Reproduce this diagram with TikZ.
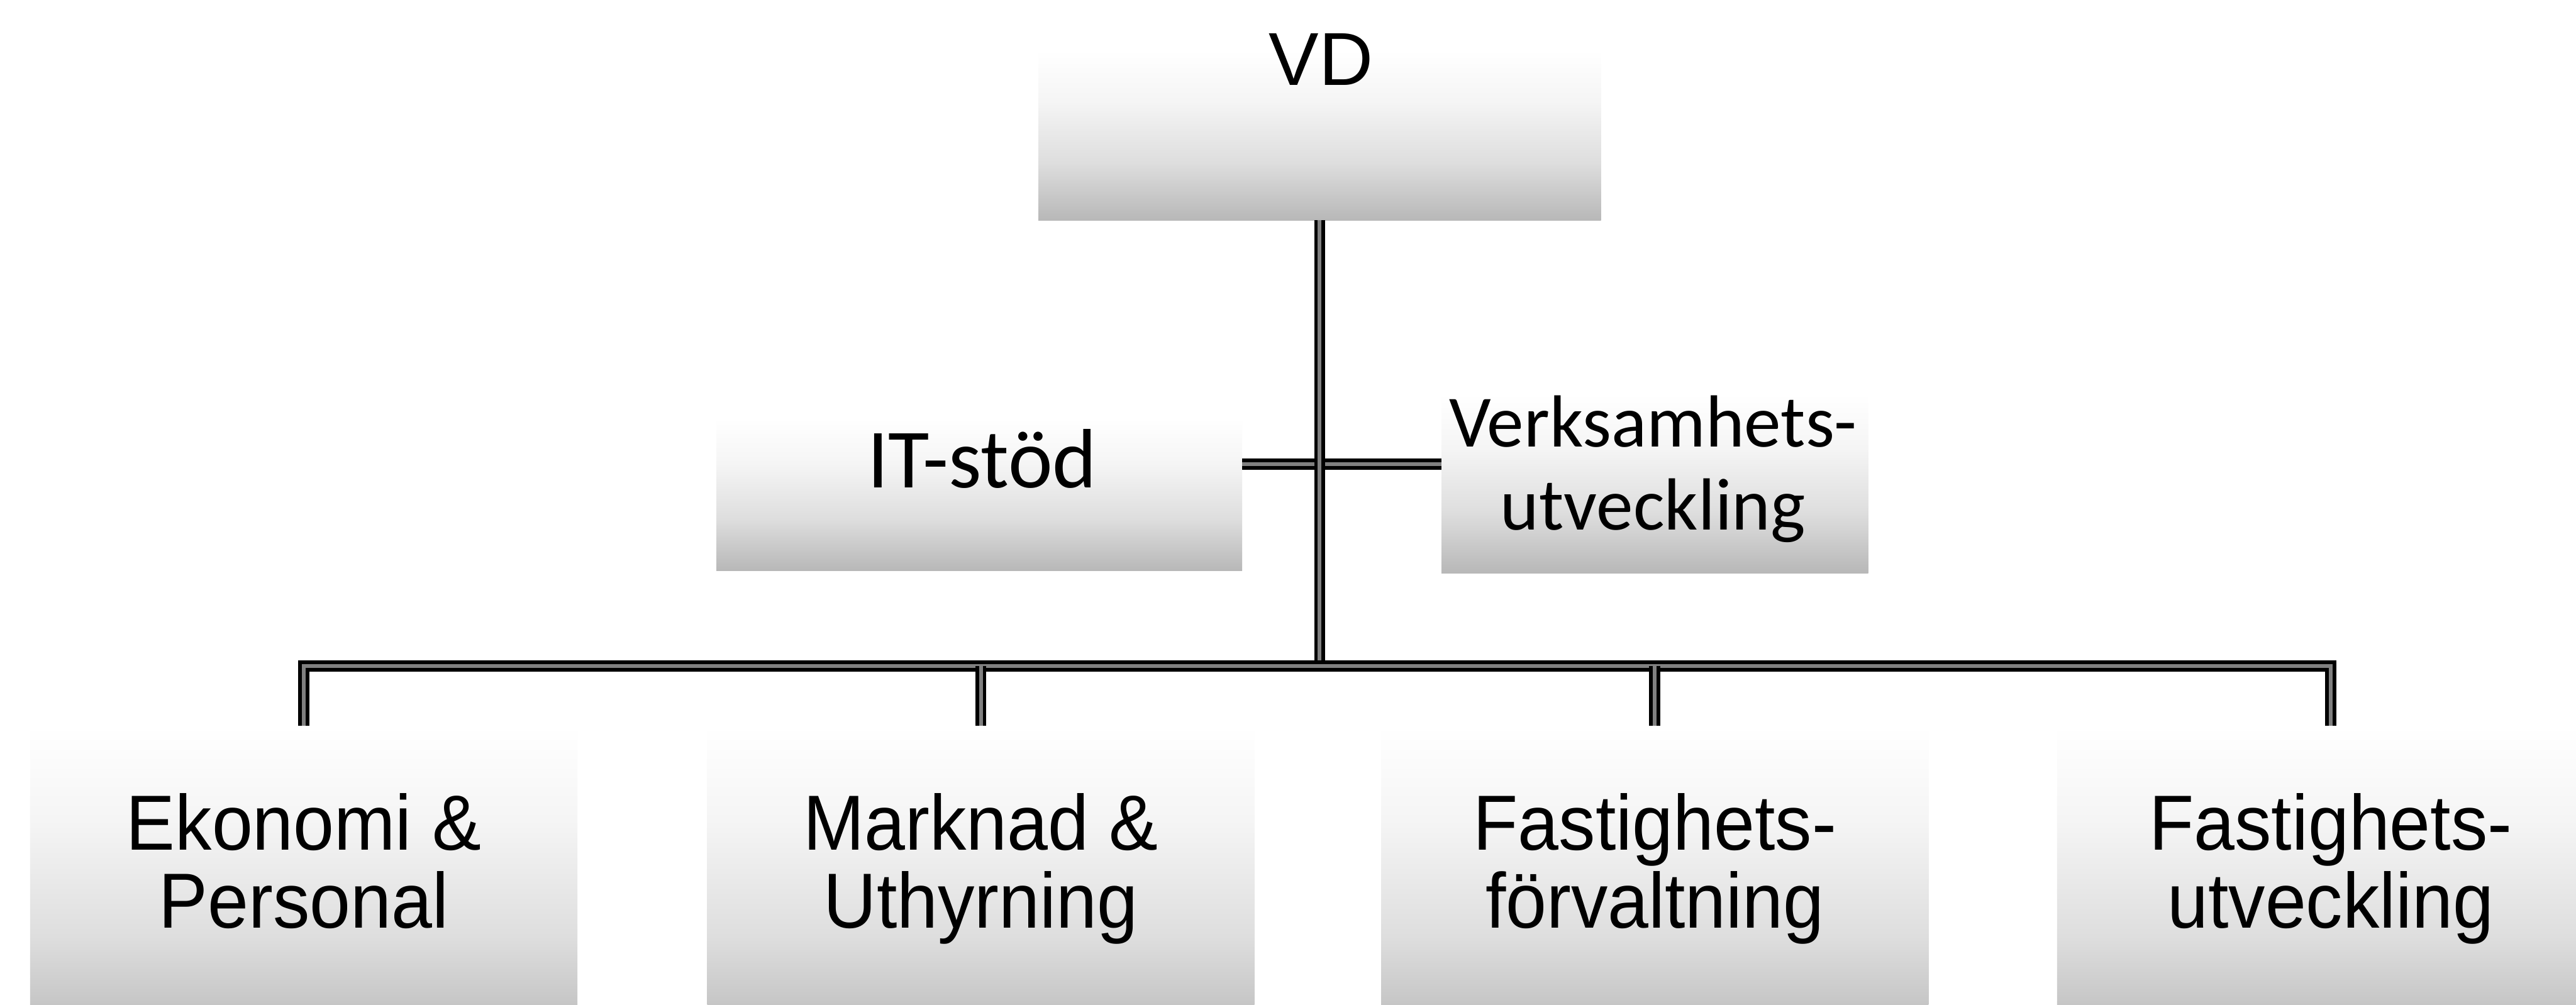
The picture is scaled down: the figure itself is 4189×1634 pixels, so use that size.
\documentclass[tikz,border=0pt]{standalone}
\usepackage{fontspec}
\setmainfont{Liberation Sans}
\newfontfamily\unitfont[FakeStretch=0.94]{Liberation Sans}
\newfontfamily\stafffont{Carlito}
% fill that is almost white at the top and darkens towards the bottom
\pgfdeclareverticalshading{unitfade}{100bp}{%
  color(0bp)=(black!28); color(25bp)=(black!28); color(42bp)=(black!13);
  color(60bp)=(black!4); color(75bp)=(white); color(100bp)=(white)}
\tikzset{
  unitbox/.style={rectangle, draw=none, inner sep=0pt, outer sep=0pt,
    shading=unitfade},
  unitlabel/.style={inner sep=0pt, outer sep=0pt, anchor=north, align=center,
    font=\unitfont\fontsize{12.7}{12.7}\selectfont},
  stafflabel/.style={inner sep=0pt, outer sep=0pt, align=center,
    font=\stafffont\fontsize{12}{13.5}\selectfont},
  orgline/.style={draw=black, line width=0.6pt, double=black!50,
    double distance=0.6pt},
}
\begin{document}
\begin{tikzpicture}[x=0.1pt,y=-0.1pt]
\useasboundingbox (0,0) rectangle (4189,1634);
\fill[white] (0,0) rectangle (4189,1634);
\clip (0,0) rectangle (4189,1634);

% shaded unit boxes
\node[unitbox, minimum width=91.5pt, minimum height=27.6pt] (vd) at (2146,220) {};
\node[unitbox, minimum width=85.5pt, minimum height=24.8pt] (it) at (1592.5,804) {};
\node[unitbox, minimum width=69.4pt, minimum height=29pt] (verk) at (2691,787) {};
\node[unitbox, minimum width=89pt, minimum height=52pt] (ekon) at (494,1440) {};
\node[unitbox, minimum width=89pt, minimum height=52pt] (mark) at (1595,1440) {};
\node[unitbox, minimum width=89pt, minimum height=52pt] (ffor) at (2691,1440) {};
\node[unitbox, minimum width=89pt, minimum height=52pt] (futv) at (3790,1440) {};

% labels
\node[anchor=base, inner sep=0pt, font=\fontsize{12.2}{12.2}\selectfont] (vdT) at (2148,139) {VD};
\node[anchor=base, inner sep=0pt, font=\stafffont\fontsize{13.7}{13.7}\selectfont] (itT) at (1597,793) {IT-stöd};
\node[stafflabel, anchor=north] (verkT) at (2688,643) {Verksamhets-\\utveckling};
\node[unitlabel] (ekonT) at (494,1290) {Ekonomi \&\\Personal};
\node[unitlabel] (markT) at (1595,1290) {Marknad \&\\Uthyrning};
\node[unitlabel] (fforT) at (2691,1290) {Fastighets-\\förvaltning};
\node[unitlabel] (futvT) at (3790,1290) {Fastighets-\\utveckling};

% connectors
\coordinate (bar) at (2146,1083);
\coordinate (side) at (2146,755);
\draw[orgline] (it.east |- side) -- (verk.west |- side);
\draw[orgline] (vd.south) -- (vd.south |- bar);
\draw[orgline] (ekon.north) -- (ekon.north |- bar) -- (futv.north |- bar) -- (futv.north);
\draw[orgline] (mark.north |- bar) -- (mark.north);
\draw[orgline] (ffor.north |- bar) -- (ffor.north);
\end{tikzpicture}
\end{document}
